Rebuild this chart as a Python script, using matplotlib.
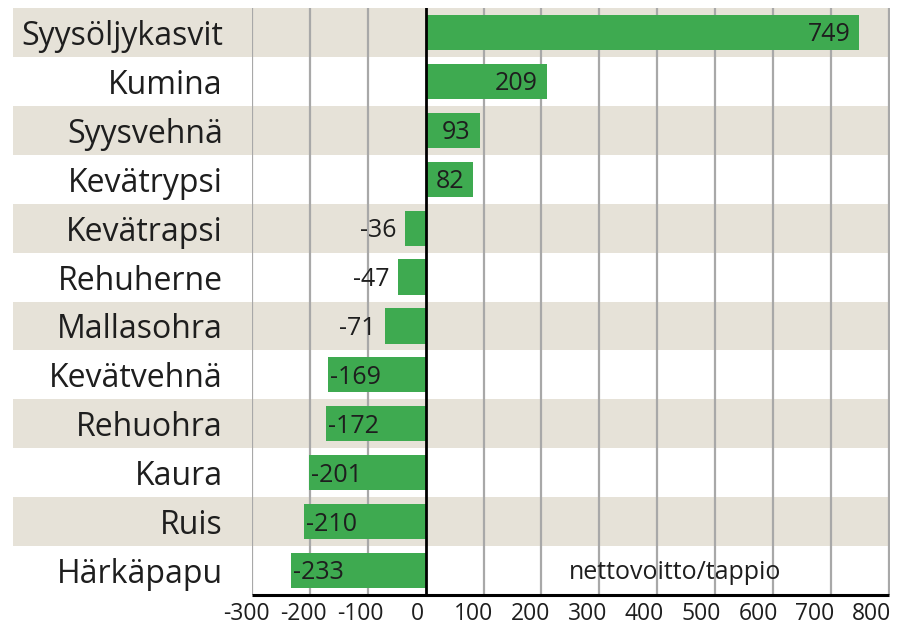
import numpy as np
import matplotlib
matplotlib.use("Agg")
import matplotlib.pyplot as plt
import matplotlib.transforms as mtransforms

plt.rcParams['font.family'] = ['Open Sans', 'DejaVu Sans']

# data
crops = ["Syysöljykasvit", "Kumina", "Syysvehnä", "Kevätrypsi", "Kevätrapsi",
         "Rehuherne", "Mallasohra", "Kevätvehnä", "Rehuohra", "Kaura", "Ruis",
         "Härkäpapu"]
values = [749, 209, 93, 82, -36, -47, -71, -169, -172, -201, -210, -233]
xticks = [-300, -200, -100, 0, 100, 200, 300, 400, 500, 600, 700, 800]
note = "nettovoitto/tappio"

band_col = "#e6e2d8"
bar_col = "#3eaa50"
grid_col = "#a8a8a8"
text_col = "#1e1e1e"

W, H = 902, 629
fig = plt.figure(figsize=(W / 100, H / 100), dpi=100)
ax = fig.add_axes([252 / W, 1 - 595 / H, (890 - 252) / W, (595 - 8) / H])

y = np.arange(len(crops))
ax.set_xlim(-300, 802)
ax.set_ylim(len(crops) - 0.5, -0.5)

# alternating background bands, reaching out under the category labels
left_frac = -(252 - 13) / (890 - 252)
for i in y:
    if i % 2 == 0:
        ax.axhspan(i - 0.5, i + 0.5, xmin=left_frac, xmax=1, color=band_col,
                   lw=0, zorder=0, clip_on=False)

# vertical gridlines
for t in xticks:
    if t != 0:
        ax.axvline(t, color=grid_col, lw=1.6, zorder=1)

ax.barh(y, values, height=0.72, color=bar_col, zorder=2)
ax.axvline(0, color="black", lw=2, zorder=3)
ax.plot([xticks[0], xticks[-1]], [len(crops) - 0.5, len(crops) - 0.5],
        color="black", lw=2.2, zorder=3, clip_on=False, solid_capstyle="butt")

# value labels
for yi, v in zip(y, values):
    if v > -100:
        ax.text(v - 15, yi + 0.05, str(v), ha="right", va="center",
                fontsize=18, color=text_col, zorder=4)
    else:
        ax.text(v + 3, yi + 0.05, str(v), ha="left", va="center",
                fontsize=18, color=text_col, zorder=4)

ax.text(430, len(crops) - 1 + 0.05, note, ha="center", va="center",
        fontsize=18, color=text_col, zorder=4)

ax.set_yticks(y)
ax.set_yticklabels(crops, fontsize=23, color=text_col)
ax.set_xticks(xticks)
ax.set_xticklabels([str(t) for t in xticks], fontsize=16.5, color=text_col)
ax.tick_params(axis="y", length=0, pad=21)
ax.tick_params(axis="x", length=0, pad=5)

# the tick labels sit a little tighter than the gridlines in the original
for i, lab in enumerate(ax.get_xticklabels()):
    dx = (-4 - i * 0.75) / 72
    lab.set_transform(lab.get_transform() +
                      mtransforms.ScaledTranslation(dx, 0, fig.dpi_scale_trans))

for s in ax.spines.values():
    s.set_visible(False)
ax.patch.set_alpha(0)

fig.savefig("out.png", dpi=100, facecolor="white")
